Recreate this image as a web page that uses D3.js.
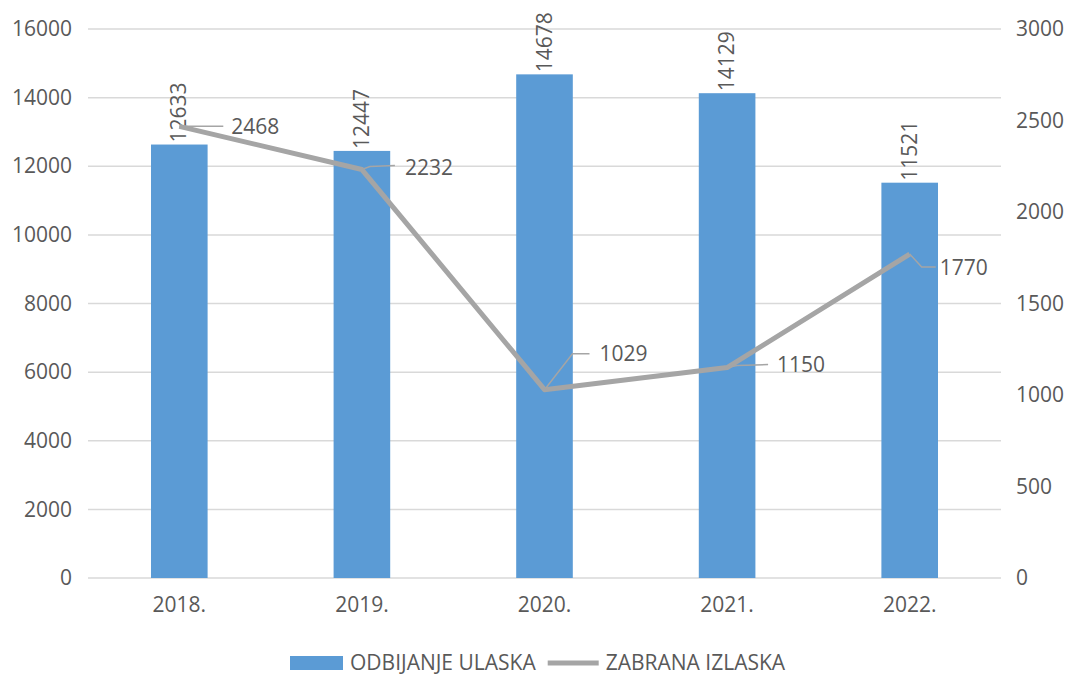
<!DOCTYPE html>
<html>
<head>
<meta charset="utf-8">
<script src="https://d3js.org/d3.v7.min.js"></script>
<style>
    body { margin: 0; background: #fff; }
    text { font-family: "Open Sans", sans-serif; fill: #595959; }
</style>
</head>
<body>
<div id="chart"></div>
<script>
var years = ["2018.", "2019.", "2020.", "2021.", "2022."];
var odbijanje = [12633, 12447, 14678, 14129, 11521];
var zabrana = [2468, 2232, 1029, 1150, 1770];
var leftTicks = [0, 2000, 4000, 6000, 8000, 10000, 12000, 14000, 16000];
var rightTicks = [0, 500, 1000, 1500, 2000, 2500, 3000];
var seriesNames = ["ODBIJANJE ULASKA", "ZABRANA IZLASKA"];

// leader line label placement for the line series (dx, dy from point, plus elbow)
var lineLabelPos = [
    { elbow: [5, 0], end: [44, 0], tx: 52, ty: 0 },
    { elbow: [8, -3], end: [33, -4], tx: 43, ty: -2 },
    { elbow: [28, -36], end: [45, -36], tx: 55, ty: -36 },
    { elbow: [10, -2], end: [41, -3], tx: 50, ty: -3 },
    { elbow: [12, 13], end: [26, 13], tx: 30, ty: 14 }
];

function init() {
    var w = 1068;
    var h = 675;
    var left = 88, right = 1001, top = 29, bottom = 578;
    var fs = "21px";

    var svg = d3.select("#chart")
        .append("svg")
        .attr("width", w)
        .attr("height", h);

    var x = d3.scaleBand()
        .domain(years)
        .range([left, right])
        .paddingInner(0.69)
        .paddingOuter(0.345);

    var yL = d3.scaleLinear().domain([0, 16000]).range([bottom, top]);
    var yR = d3.scaleLinear().domain([0, 3000]).range([bottom, top]);

    // gridlines
    svg.append("g")
        .selectAll("line")
        .data(leftTicks)
        .enter()
        .append("line")
        .attr("x1", left)
        .attr("x2", right)
        .attr("y1", function (d) { return yL(d); })
        .attr("y2", function (d) { return yL(d); })
        .attr("stroke", "#D9D9D9")
        .attr("stroke-width", 1.5);

    var axisL = svg.append("g")
        .attr("transform", "translate(" + left + ",0)")
        .call(d3.axisLeft(yL).tickValues(leftTicks).tickFormat(d3.format("d")).tickSize(0).tickPadding(16));
    axisL.select(".domain").remove();
    axisL.selectAll("text").attr("font-size", fs).attr("fill", "#595959");

    var axisR = svg.append("g")
        .attr("transform", "translate(" + right + ",0)")
        .call(d3.axisRight(yR).tickValues(rightTicks).tickFormat(d3.format("d")).tickSize(0).tickPadding(15));
    axisR.select(".domain").remove();
    axisR.selectAll("text").attr("font-size", fs).attr("fill", "#595959");

    var axisX = svg.append("g")
        .attr("transform", "translate(0," + bottom + ")")
        .call(d3.axisBottom(x).tickSize(0).tickPadding(19));
    axisX.select(".domain").remove();
    axisX.selectAll("text").attr("font-size", fs).attr("fill", "#595959");

    // bars
    svg.selectAll("rect.bar")
        .data(odbijanje)
        .enter()
        .append("rect")
        .attr("class", "bar")
        .attr("x", function (d, i) { return x(years[i]); })
        .attr("y", function (d) { return yL(d); })
        .attr("width", x.bandwidth())
        .attr("height", function (d) { return bottom - yL(d); })
        .attr("fill", "#5B9BD5");

    svg.selectAll("text.barlabel")
        .data(odbijanje)
        .enter()
        .append("text")
        .attr("class", "barlabel")
        .text(function (d) { return d; })
        .attr("transform", function (d, i) {
            var cx = x(years[i]) + x.bandwidth() / 2 + 7;
            return "translate(" + cx + "," + (yL(d) - 2) + ") rotate(-90)";
        })
        .attr("font-size", fs)
        .attr("fill", "#404040");

    // line
    var line = d3.line()
        .x(function (d, i) { return x(years[i]) + x.bandwidth() / 2; })
        .y(function (d) { return yR(d); });

    svg.append("path")
        .datum(zabrana)
        .attr("d", line)
        .attr("fill", "none")
        .attr("stroke", "#A5A5A5")
        .attr("stroke-width", 5)
        .attr("stroke-linejoin", "round");

    // line labels with leader lines
    zabrana.forEach(function (d, i) {
        var px = x(years[i]) + x.bandwidth() / 2;
        var py = yR(d);
        var p = lineLabelPos[i];
        svg.append("polyline")
            .attr("points", [[px, py], [px + p.elbow[0], py + p.elbow[1]], [px + p.end[0], py + p.end[1]]].join(" "))
            .attr("fill", "none")
            .attr("stroke", "#A5A5A5")
            .attr("stroke-width", 1.5);
        svg.append("text")
            .text(d)
            .attr("x", px + p.tx)
            .attr("y", py + p.ty)
            .attr("dy", "0.35em")
            .attr("font-size", fs)
            .attr("fill", "#404040");
    });

    // legend
    var lg = svg.append("g");
    var lx = 290, ly = 663;
    lg.append("rect")
        .attr("x", lx).attr("y", ly - 7)
        .attr("width", 53).attr("height", 14)
        .attr("fill", "#5B9BD5");
    var t1 = lg.append("text")
        .text(seriesNames[0])
        .attr("x", lx + 60).attr("y", ly)
        .attr("dy", "0.35em")
        .attr("font-size", "21px");
    var w1 = t1.node().getComputedTextLength();
    var l2 = lx + 60 + w1 + 12;
    lg.append("line")
        .attr("x1", l2).attr("x2", l2 + 51)
        .attr("y1", ly).attr("y2", ly)
        .attr("stroke", "#A5A5A5")
        .attr("stroke-width", 5);
    lg.append("text")
        .text(seriesNames[1])
        .attr("x", l2 + 58).attr("y", ly)
        .attr("dy", "0.35em")
        .attr("font-size", "21px");
}

window.onload = init;
</script>
</body>
</html>
